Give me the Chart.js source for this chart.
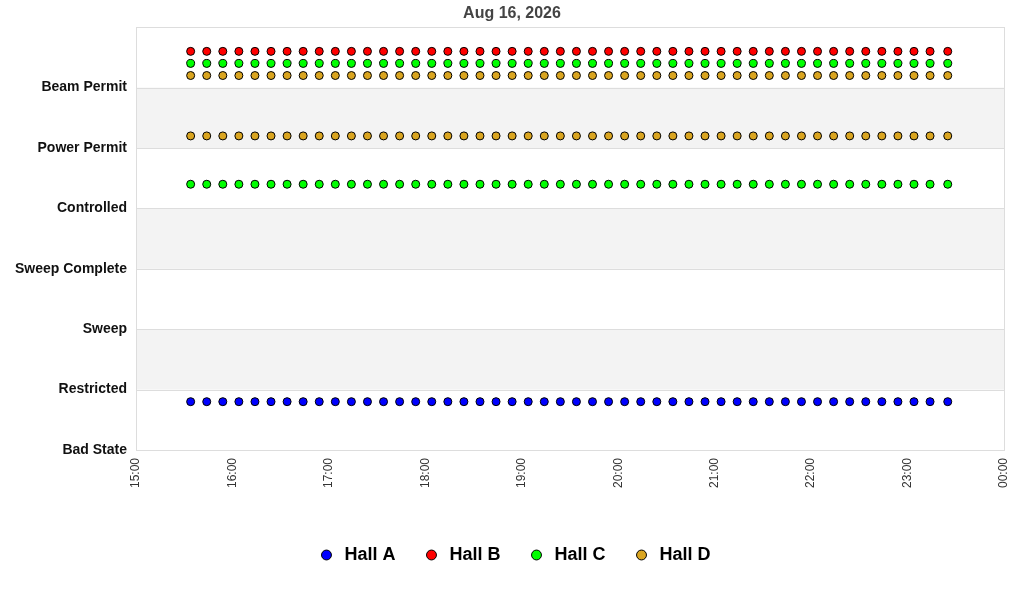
<!DOCTYPE html>
<html>
<head>
<meta charset="utf-8">
<title>Hall states</title>
<script src="https://cdn.jsdelivr.net/npm/chart.js@4.4.1/dist/chart.umd.min.js"></script>
<style>
  html, body { margin: 0; padding: 0; background: #fff; }
  #wrap { width: 1024px; height: 600px; }
</style>
</head>
<body>
<div id="wrap"><canvas id="stateChart" width="1024" height="600"></canvas></div>
<script>
// Axis categories (y = 0..6), the top slot (7) is left unlabeled
const stateLabels = ['Bad State', 'Restricted', 'Sweep', 'Sweep Complete', 'Controlled', 'Power Permit', 'Beam Permit'];

// Sample times (every 10 minutes)
const times = [
  '15:34', '15:44', '15:54',
  '16:04', '16:14', '16:24', '16:34', '16:44', '16:54',
  '17:04', '17:14', '17:24', '17:34', '17:44', '17:54',
  '18:04', '18:14', '18:24', '18:34', '18:44', '18:54',
  '19:04', '19:14', '19:24', '19:34', '19:44', '19:54',
  '20:04', '20:14', '20:24', '20:34', '20:44', '20:54',
  '21:04', '21:14', '21:24', '21:34', '21:44', '21:54',
  '22:04', '22:14', '22:24', '22:34', '22:44', '22:54',
  '23:04', '23:14', '23:25'
];

// Plotted levels (state index + per-hall offset)
const hallA = [
  0.8, 0.8, 0.8, 0.8, 0.8, 0.8, 0.8, 0.8, 0.8, 0.8, 0.8, 0.8,
  0.8, 0.8, 0.8, 0.8, 0.8, 0.8, 0.8, 0.8, 0.8, 0.8, 0.8, 0.8,
  0.8, 0.8, 0.8, 0.8, 0.8, 0.8, 0.8, 0.8, 0.8, 0.8, 0.8, 0.8,
  0.8, 0.8, 0.8, 0.8, 0.8, 0.8, 0.8, 0.8, 0.8, 0.8, 0.8, 0.8
];
const hallB = [
  6.6, 6.6, 6.6, 6.6, 6.6, 6.6, 6.6, 6.6, 6.6, 6.6, 6.6, 6.6,
  6.6, 6.6, 6.6, 6.6, 6.6, 6.6, 6.6, 6.6, 6.6, 6.6, 6.6, 6.6,
  6.6, 6.6, 6.6, 6.6, 6.6, 6.6, 6.6, 6.6, 6.6, 6.6, 6.6, 6.6,
  6.6, 6.6, 6.6, 6.6, 6.6, 6.6, 6.6, 6.6, 6.6, 6.6, 6.6, 6.6
];
const hallC = [
  6.4, 6.4, 6.4, 6.4, 6.4, 6.4, 6.4, 6.4, 6.4, 6.4, 6.4, 6.4,
  6.4, 6.4, 6.4, 6.4, 6.4, 6.4, 6.4, 6.4, 6.4, 6.4, 6.4, 6.4,
  6.4, 6.4, 6.4, 6.4, 6.4, 6.4, 6.4, 6.4, 6.4, 6.4, 6.4, 6.4,
  6.4, 6.4, 6.4, 6.4, 6.4, 6.4, 6.4, 6.4, 6.4, 6.4, 6.4, 6.4
];
const hallCControlled = [
  4.4, 4.4, 4.4, 4.4, 4.4, 4.4, 4.4, 4.4, 4.4, 4.4, 4.4, 4.4,
  4.4, 4.4, 4.4, 4.4, 4.4, 4.4, 4.4, 4.4, 4.4, 4.4, 4.4, 4.4,
  4.4, 4.4, 4.4, 4.4, 4.4, 4.4, 4.4, 4.4, 4.4, 4.4, 4.4, 4.4,
  4.4, 4.4, 4.4, 4.4, 4.4, 4.4, 4.4, 4.4, 4.4, 4.4, 4.4, 4.4
];
const hallD = [
  6.2, 6.2, 6.2, 6.2, 6.2, 6.2, 6.2, 6.2, 6.2, 6.2, 6.2, 6.2,
  6.2, 6.2, 6.2, 6.2, 6.2, 6.2, 6.2, 6.2, 6.2, 6.2, 6.2, 6.2,
  6.2, 6.2, 6.2, 6.2, 6.2, 6.2, 6.2, 6.2, 6.2, 6.2, 6.2, 6.2,
  6.2, 6.2, 6.2, 6.2, 6.2, 6.2, 6.2, 6.2, 6.2, 6.2, 6.2, 6.2
];
const hallDPower = [
  5.2, 5.2, 5.2, 5.2, 5.2, 5.2, 5.2, 5.2, 5.2, 5.2, 5.2, 5.2,
  5.2, 5.2, 5.2, 5.2, 5.2, 5.2, 5.2, 5.2, 5.2, 5.2, 5.2, 5.2,
  5.2, 5.2, 5.2, 5.2, 5.2, 5.2, 5.2, 5.2, 5.2, 5.2, 5.2, 5.2,
  5.2, 5.2, 5.2, 5.2, 5.2, 5.2, 5.2, 5.2, 5.2, 5.2, 5.2, 5.2
];

const startHour = 15;

// minutes after 15:00
function toMinutes(t) {
  const parts = t.split(':');
  return (parseInt(parts[0], 10) - startHour) * 60 + parseInt(parts[1], 10);
}

function toPoints() {
  let pts = [];
  for (let s = 0; s < arguments.length; s++) {
    const series = arguments[s];
    series.forEach((v, i) => pts.push({ x: toMinutes(times[i]), y: v }));
  }
  return pts;
}

function pad2(n) {
  return (n < 10 ? '0' : '') + n;
}

// alternating grey bands and plot frame
const bandPlugin = {
  id: 'bands',
  afterLayout(chart) {
    // title and legend sit a little right of the canvas centre
    chart.legend.left += 12;
    chart.legend.right += 12;
    chart.titleBlock.left += 10;
    chart.titleBlock.right += 10;
  },
  beforeDatasetsDraw(chart) {
    const ctx = chart.ctx;
    const area = chart.chartArea;
    const y = chart.scales.y;
    ctx.save();
    ctx.fillStyle = '#f3f3f3';
    [1, 3, 5].forEach(lo => {
      const top = y.getPixelForValue(lo + 1);
      const bottom = y.getPixelForValue(lo);
      ctx.fillRect(area.left, top, area.right - area.left, bottom - top);
    });
    ctx.strokeStyle = '#dddddd';
    ctx.lineWidth = 1;
    for (let v = 0; v <= 7; v++) {
      const py = Math.round(y.getPixelForValue(v)) + 0.5;
      ctx.beginPath();
      ctx.moveTo(area.left, py);
      ctx.lineTo(area.right, py);
      ctx.stroke();
    }
    ctx.strokeRect(Math.round(area.left) + 0.5, Math.round(area.top) + 0.5,
      Math.round(area.right - area.left), Math.round(area.bottom - area.top));
    ctx.restore();
  }
};

Chart.defaults.font.family = '"Liberation Sans", Arial, sans-serif';

const ctx = document.getElementById('stateChart').getContext('2d');
const stateChart = new Chart(ctx, {
  type: 'scatter',
  data: {
    datasets: [
      { label: 'Hall A', data: toPoints(hallA), backgroundColor: '#0000ff' },
      { label: 'Hall B', data: toPoints(hallB), backgroundColor: '#ff0000' },
      { label: 'Hall C', data: toPoints(hallC, hallCControlled), backgroundColor: '#00ff00' },
      { label: 'Hall D', data: toPoints(hallD, hallDPower), backgroundColor: '#daa520' }
    ].map(ds => Object.assign(ds, {
      borderColor: '#000000',
      borderWidth: 1,
      pointRadius: 4,
      pointHoverRadius: 4,
      showLine: false
    }))
  },
  plugins: [bandPlugin],
  options: {
    responsive: false,
    animation: false,
    layout: { padding: { left: 0, right: 20, top: 0, bottom: 26 } },
    plugins: {
      title: {
        display: true,
        text: 'Aug 16, 2026',
        color: '#444444',
        font: { size: 16, weight: 'bold' },
        padding: { top: 4, bottom: 4 }
      },
      legend: {
        position: 'bottom',
        labels: {
          usePointStyle: true,
          pointStyle: 'circle',
          boxHeight: 7,
          boxWidth: 18,
          padding: 27,
          color: '#000000',
          font: { size: 18, weight: 'bold' }
        }
      },
      tooltip: { enabled: false }
    },
    scales: {
      x: {
        type: 'linear',
        min: 0,
        max: 540,
        afterFit: function(scale) {
          scale.height = 69;
          scale.paddingLeft = 0;
          scale.paddingRight = 0;
        },
        grid: { display: false, drawTicks: false },
        border: { display: false },
        ticks: {
          stepSize: 60,
          minRotation: 90,
          maxRotation: 90,
          padding: 8,
          color: '#333333',
          font: { size: 12 },
          callback: function(value) {
            const h = (startHour + Math.floor(value / 60)) % 24;
            return pad2(h) + ':' + pad2(value % 60);
          }
        }
      },
      y: {
        min: 0,
        max: 7,
        afterFit: function(scale) { scale.width = 136; },
        grid: { display: false, drawTicks: false },
        border: { display: false },
        ticks: {
          stepSize: 1,
          padding: 9,
          color: '#111111',
          font: { size: 14, weight: 'bold' },
          callback: function(value) {
            return stateLabels[value] || '';
          }
        }
      }
    }
  }
});
</script>
</body>
</html>
